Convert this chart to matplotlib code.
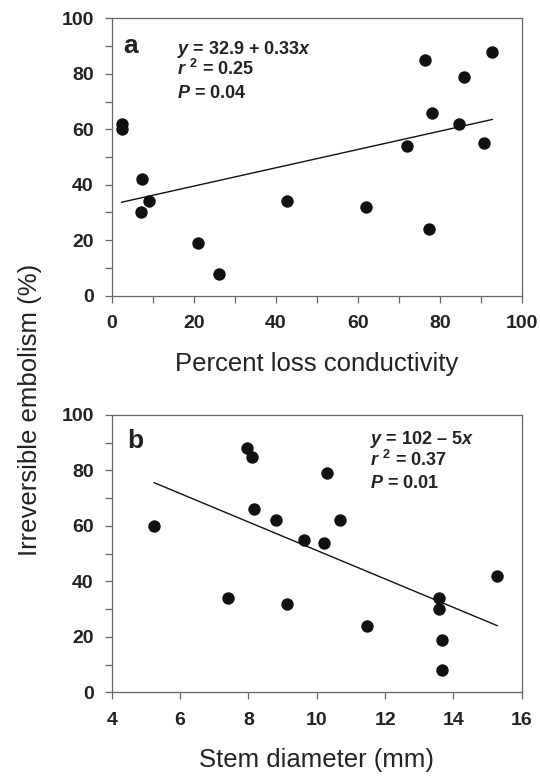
import numpy as np
import matplotlib.pyplot as plt

plt.rcParams['font.family'] = ['Liberation Sans', 'DejaVu Sans']
plt.rcParams['mathtext.fontset'] = 'custom'
plt.rcParams['mathtext.rm'] = 'Liberation Sans:bold'
plt.rcParams['mathtext.it'] = 'Liberation Sans:bold:italic'
plt.rcParams['mathtext.bf'] = 'Liberation Sans:bold'

# panel a: percent loss conductivity vs irreversible embolism
plc = [2.4, 2.4, 7.1, 7.5, 9.1, 21.1, 26.1, 42.8, 62.0, 71.9, 76.4, 77.5, 78.1, 84.7, 85.8, 90.8, 92.8]
emb_a = [62, 60, 30, 42, 34, 19, 8, 34, 32, 54, 85, 24, 66, 62, 79, 55, 88]
fit_a = (32.9, 0.33)
text_a = [r'$y$ = 32.9 + 0.33$x$', r'$r\ ^{2}$ = 0.25', r'$P$ = 0.04']

# panel b: stem diameter vs irreversible embolism
diam = [5.24, 7.40, 7.97, 8.11, 8.15, 8.82, 9.14, 9.62, 10.20, 10.29, 10.69, 11.48, 13.58, 13.58, 13.68, 13.68, 15.28]
emb_b = [60, 34, 88, 85, 66, 62, 32, 55, 54, 79, 62, 24, 34, 30, 19, 8, 42]
text_b = [r'$y$ = 102 – 5$x$', r'$r\ ^{2}$ = 0.37', r'$P$ = 0.01']

fig = plt.figure(figsize=(5.4, 7.78), dpi=100)
ax1 = fig.add_axes([0.2069, 0.6199, 0.7593, 0.3566])
ax2 = fig.add_axes([0.2069, 0.1102, 0.7593, 0.3564])

def style(ax, xmin, xmax, xmajor, xminor):
    ax.set_xlim(xmin, xmax)
    ax.set_ylim(0, 100)
    ax.set_xticks(np.arange(xmin, xmax + 0.01, xmajor))
    if xminor:
        ax.set_xticks(np.arange(xmin, xmax + 0.01, xminor), minor=True)
    ax.set_yticks(np.arange(0, 101, 20))
    ax.set_yticks(np.arange(0, 101, 10), minor=True)
    for s in ax.spines.values():
        s.set_color('#666666')
        s.set_linewidth(0.9)
    ax.tick_params(which='both', direction='out', length=5, width=0.9, color='#666666')
    ax.tick_params(axis='x', labelsize=14, pad=9, labelcolor='#222222')
    ax.tick_params(axis='y', labelsize=14, pad=8, labelcolor='#222222')
    for lab in ax.get_xticklabels() + ax.get_yticklabels():
        lab.set_fontweight('bold')

ax1.scatter(plc, emb_a, s=80, color='#111111', linewidths=0, zorder=3)
xa = np.array([min(plc), max(plc)])
ax1.plot(xa, fit_a[0] + fit_a[1] * xa, color='#111111', lw=1.0)
style(ax1, 0, 100, 20, 10)
ax1.set_xlabel('Percent loss conductivity', fontsize=18.5, color='#222222', labelpad=14)

ax2.scatter(diam, emb_b, s=80, color='#111111', linewidths=0, zorder=3)
k, b = np.polyfit(diam, emb_b, 1)
xb = np.array([min(diam), max(diam)])
ax2.plot(xb, b + k * xb, color='#111111', lw=1.0)
style(ax2, 4, 16, 2, None)
ax2.set_xlabel('Stem diameter (mm)', fontsize=18.5, color='#222222', labelpad=14)

ax1.text(0.027, 0.875, 'a', transform=ax1.transAxes, fontsize=19, fontweight='bold', color='#222222', va='baseline')
ax2.text(0.039, 0.882, 'b', transform=ax2.transAxes, fontsize=19, fontweight='bold', color='#222222', va='baseline')
for t, yy in zip(text_a, [0.871, 0.796, 0.713]):
    ax1.text(0.1585, yy, t, transform=ax1.transAxes, fontsize=13, fontweight='bold', color='#222222', va='baseline')
for t, yy in zip(text_b, [0.895, 0.816, 0.737]):
    ax2.text(0.630, yy, t, transform=ax2.transAxes, fontsize=13, fontweight='bold', color='#222222', va='baseline')

fig.text(0.056, 0.473, 'Irreversible embolism (%)', rotation=90, fontsize=18.5, color='#222222', ha='center', va='center')

fig.savefig('out.png', dpi=100)
